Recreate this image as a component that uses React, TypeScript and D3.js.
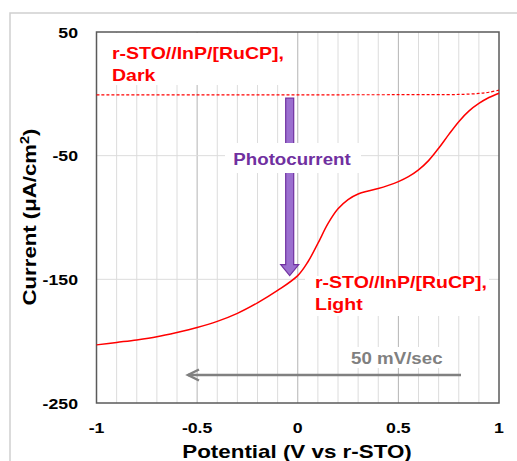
import React from "react";
import * as d3 from "d3";

// Potential (V vs r-STO) and current density (µA/cm²)
const lightPotential = [-1.0, -0.9, -0.8, -0.7, -0.6, -0.5, -0.4, -0.3, -0.2, -0.1, 0.0, 0.05, 0.1, 0.15, 0.2, 0.25, 0.3, 0.35, 0.4, 0.45, 0.5, 0.55, 0.6, 0.65, 0.7, 0.75, 0.8, 0.85, 0.9, 0.95, 1.0];
const lightCurrent = [-203, -201, -199, -196.5, -193, -189, -184, -177.5, -169, -159, -147, -136, -121, -105, -93, -85.5, -81, -78.5, -76.5, -74, -71, -67, -61.5, -54, -44, -33, -22.5, -14, -7.8, -3, 0.5];

const darkPotential = [-1.0, -0.5, 0.0, 0.5, 0.8, 0.9, 0.95, 1.0];
const darkCurrent = [-0.9, -0.9, -0.8, -0.7, -0.5, 0.3, 1.3, 3.0];

const xTicks = [-1, -0.5, 0, 0.5, 1];
const xTickLabels = ["-1", "-0.5", "0", "0.5", "1"];
const xMinorGrid = [-0.9, -0.8, -0.7, -0.6, -0.4, -0.3, -0.2, -0.1, 0.1, 0.2, 0.3, 0.4, 0.6, 0.7, 0.8, 0.9];
const xMajorGrid = [-0.5, 0, 0.5];
const yTicks = [50, -50, -150, -250];

// Photocurrent arrow: potential and current span
const photoArrowX = -0.04;
const photoArrowFrom = -3.5;
const photoArrowTo = -147;

const W = 517;
const H = 461;
const plot = { left: 96.5, right: 499, top: 32, bottom: 403 };

const FONT = "'Liberation Sans', Arial, Helvetica, sans-serif";

function Label(props: {
  x: number;
  y: number;
  size: number;
  fill: string;
  sx?: number;
  anchor?: string;
  rotate?: number;
  children: React.ReactNode;
}) {
  const { x, y, size, fill, sx = 1.18, anchor = "start", rotate = 0, children } = props;
  return (
    <text
      transform={`translate(${x},${y}) rotate(${rotate}) scale(${sx},1)`}
      fontFamily={FONT}
      fontWeight="bold"
      fontSize={size}
      fill={fill}
      textAnchor={anchor}
    >
      {children}
    </text>
  );
}

export default function App() {
  const x = d3.scaleLinear().domain([-1, 1]).range([plot.left, plot.right]);
  const y = d3.scaleLinear().domain([-250, 50]).range([plot.bottom, plot.top]);

  const line = d3
    .line<[number, number]>()
    .x((d) => x(d[0]))
    .y((d) => y(d[1]))
    .curve(d3.curveCatmullRom.alpha(0.5));

  const lightPath = line(lightPotential.map((p, i) => [p, lightCurrent[i]]) as [number, number][]) || "";
  const darkPath = line(darkPotential.map((p, i) => [p, darkCurrent[i]]) as [number, number][]) || "";

  // arrow shape
  const ax = x(photoArrowX);
  const ay0 = y(photoArrowFrom);
  const ay1 = y(photoArrowTo);
  const shaftHalf = 4;
  const headHalf = 9;
  const headLen = 11;
  const arrowPts = [
    [ax - shaftHalf, ay0],
    [ax + shaftHalf, ay0],
    [ax + shaftHalf, ay1 - headLen],
    [ax + headHalf, ay1 - headLen],
    [ax, ay1],
    [ax - headHalf, ay1 - headLen],
    [ax - shaftHalf, ay1 - headLen],
  ]
    .map((p) => p.join(","))
    .join(" ");

  const gridColor = "#dcdcdc";
  const majorColor = "#b4b4b4";

  return (
    <svg width={W} height={H} style={{ position: "absolute", left: 0, top: 0, background: "#fff" }}>
      {/* outer chart frame */}
      <rect x={10} y={13} width={W} height={H} fill="#fff" stroke="#cfcfcf" strokeWidth={1.5} />

      {/* grid */}
      {xMinorGrid.map((v) => (
        <line key={"gx" + v} x1={x(v)} x2={x(v)} y1={plot.top} y2={plot.bottom} stroke={gridColor} strokeWidth={1} />
      ))}
      {xMajorGrid.map((v) => (
        <line key={"gm" + v} x1={x(v)} x2={x(v)} y1={plot.top} y2={plot.bottom} stroke={majorColor} strokeWidth={1} />
      ))}
      {yTicks.slice(1, 3).map((v) => (
        <line key={"gy" + v} x1={plot.left} x2={plot.right} y1={y(v)} y2={y(v)} stroke={gridColor} strokeWidth={1} />
      ))}

      {/* text backgrounds */}
      <rect x={plot.left + 1} y={plot.top + 1} width={192} height={52} fill="#fff" />
      <rect x={305} y={276} width={184} height={40} fill="#fff" />
      <rect x={345} y={347} width={105} height={21} fill="#fff" />

      {/* plot frame */}
      <rect
        x={plot.left}
        y={plot.top}
        width={plot.right - plot.left}
        height={plot.bottom - plot.top}
        fill="none"
        stroke="#5a5a5a"
        strokeWidth={1.5}
      />

      {/* data */}
      <path d={darkPath} fill="none" stroke="#ff0000" strokeWidth={1.2} strokeDasharray="3,2" />
      <path d={lightPath} fill="none" stroke="#ff0000" strokeWidth={1.5} />

      {/* photocurrent arrow */}
      <polygon points={arrowPts} fill="#9b6fcf" stroke="#7030a0" strokeWidth={1.2} />
      <rect x={225} y={143} width={136} height={30} fill="#fff" />
      <Label x={292} y={165} size={17} fill="#7030a0" sx={1.1} anchor="middle">
        Photocurrent
      </Label>

      {/* series labels */}
      <Label x={112} y={59} size={16} fill="#ff0000" sx={1.22}>
        r-STO//InP/[RuCP],
      </Label>
      <Label x={112} y={80.5} size={16} fill="#ff0000" sx={1.22}>
        Dark
      </Label>
      <Label x={315} y={287.5} size={16} fill="#ff0000" sx={1.22}>
        r-STO//InP/[RuCP],
      </Label>
      <Label x={315} y={310} size={16} fill="#ff0000" sx={1.22}>
        Light
      </Label>

      {/* scan direction */}
      <Label x={351} y={364} size={16} fill="#808080" sx={1.17}>
        50 mV/sec
      </Label>
      <line x1={461} x2={188} y1={375} y2={375} stroke="#808080" strokeWidth={2.5} />
      <polyline points="199,369.5 188,375 199,380.5" fill="none" stroke="#808080" strokeWidth={2.5} />

      {/* axis tick labels */}
      {yTicks.map((v) => (
        <Label key={"yl" + v} x={78} y={y(v) + 5.5} size={15} fill="#000" sx={1.18} anchor="end">
          {String(v)}
        </Label>
      ))}
      {xTicks.map((v, i) => (
        <Label key={"xl" + v} x={x(v)} y={433} size={15} fill="#000" sx={1.18} anchor="middle">
          {xTickLabels[i]}
        </Label>
      ))}

      {/* axis titles */}
      <Label x={297} y={458} size={18.5} fill="#000" sx={1.21} anchor="middle">
        Potential (V vs r-STO)
      </Label>
      <Label x={36} y={217} size={18.5} fill="#000" sx={1.2} anchor="middle" rotate={-90}>
        Current (μA/cm
        <tspan fontSize={12} dy={-7}>
          2
        </tspan>
        <tspan dy={7}>)</tspan>
      </Label>
    </svg>
  );
}
